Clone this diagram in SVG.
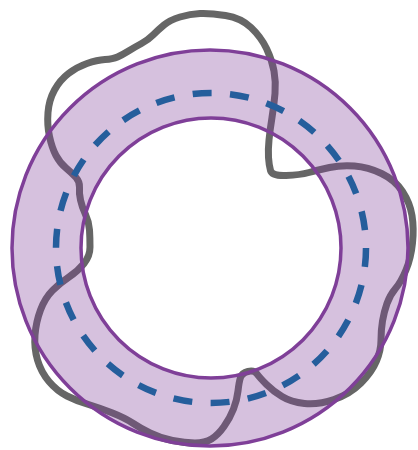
<svg xmlns="http://www.w3.org/2000/svg" width="418" height="450" viewBox="0 0 418 450">
<style>
.ring{fill:#7f3f98;fill-opacity:0.32;fill-rule:evenodd;stroke:none}
.edge{fill:none;stroke:#7f3f98;stroke-width:3.5}
.wave{fill:none;stroke:#666666;stroke-width:7;stroke-linejoin:round}
.dash{fill:none;stroke:#255e9c;stroke-width:6.5;stroke-dasharray:19 18.46}
</style>
<rect width="418" height="450" fill="#ffffff"/>
<g id="wave-curve">
<path class="wave" d="M200,13.5 Q210,13 225.5,15.5 Q241,18 251,27.5 Q261,37 266.5,48.5 Q272,60 274,71 Q276,82 275,93.5 Q274,105 272,117.5 Q270,130 269,140 Q268,150 268.5,157.5 Q269,165 270.5,170.5 Q272,176 286,175.5 Q300,175 309,172.5 Q318,170 329.5,167.5 Q341,165 354.5,166 Q368,167 381.5,173.5 Q395,180 402.5,191.5 Q410,203 412,215.5 Q414,228 412.5,243 Q411,258 406,270 Q401,282 395.5,288.5 Q390,295 387,303.5 Q384,312 382.5,321 Q381,330 381,340 Q381,350 376.5,361 Q372,372 361,383 Q350,394 334,399.5 Q318,405 304.5,403.5 Q291,402 282,396.5 Q273,391 266.5,384.5 Q260,378 257,374 Q254,370 248,371.5 Q242,373 240.5,377.5 Q239,382 238,391 Q237,400 233.5,409 Q230,418 224,426.5 Q218,435 211.5,439 Q205,443 195,443 Q185,443 172.5,440.5 Q160,438 150,433 Q140,428 132.5,423 Q125,418 112.5,413 Q100,408 88.5,404.5 Q77,401 67,396 Q57,391 49,381.5 Q41,372 37.5,360 Q34,348 35,335 Q36,322 40.5,310 Q45,298 52.5,290.5 Q60,283 69,277 Q78,271 84,263.5 Q90,256 90,247 Q90,238 89.5,230 Q89,222 85.5,214.5 Q82,207 80.5,200 Q79,193 79.5,187.5 Q80,182 76,177.5 Q72,173 66,168 Q60,163 56,155.5 Q52,148 49.5,136.5 Q47,125 48,112.5 Q49,100 54.5,90 Q60,80 68.5,73.5 Q77,67 87,63.5 Q97,60 105,59.5 Q113,59 117.5,57 Q122,55 128.5,51 Q135,47 141.5,43.5 Q148,40 153,35 Q158,30 164,25 Q170,20 180,17 Q190,14 200,13.5 Z"/>
</g>
<g id="ring">
<path class="ring" d="M408,248 A198,198 0 1 0 12,248 A198,198 0 1 0 408,248 Z M341,248 A130,130 0 1 0 81,248 A130,130 0 1 0 341,248 Z"/>
<circle class="edge" cx="210" cy="248" r="198"/>
<circle class="edge" cx="211" cy="248" r="130"/>
</g>
<g id="dashed-circle">
<circle class="dash" cx="211" cy="248" r="155"/>
</g>
</svg>
